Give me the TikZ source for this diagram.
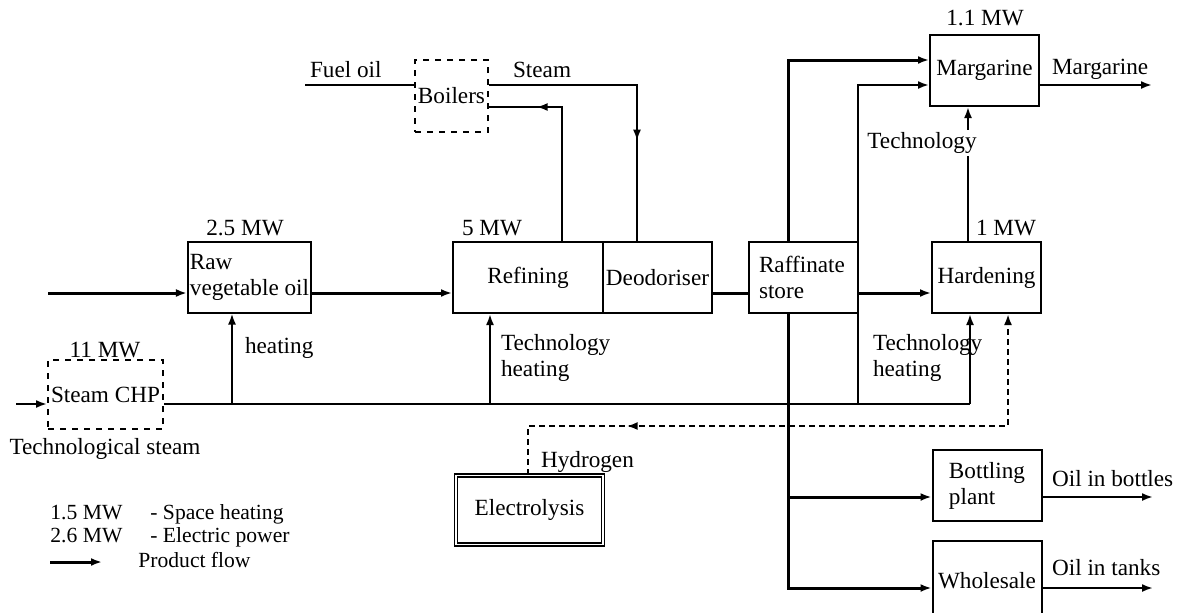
\documentclass[tikz,border=0pt]{standalone}
\usepackage{fontspec}
\setmainfont{Liberation Serif}
\usepackage{tikz}
\usetikzlibrary{arrows.meta, positioning, calc, decorations.markings}

\begin{document}
\begin{tikzpicture}[x=0.5pt, y=-0.5pt,
  every node/.style={font=\fontsize{11.6}{13}\selectfont},
  legend/.style={anchor=base west, font=\fontsize{10.8}{12}\selectfont, inner sep=0pt},
  unit/.style={draw, rectangle, line width=1pt, minimum width=54.5pt, minimum height=35.5pt, align=center, inner sep=1pt},
  plant/.style={unit, dashed},
  flow/.style={line width=1.5pt, -{Latex[length=5.5pt,width=4pt]}},
  heat/.style={line width=1pt, -{Latex[length=5.5pt,width=4pt]}},
  hydro/.style={line width=1.1pt, densely dashed, -{Latex[length=5.5pt,width=4pt]}},
  midarrow/.style={postaction={decorate}, decoration={markings, mark=at position #1 with {\arrow{Latex[length=5.5pt,width=4pt]}}}},
  midarrowrev/.style={postaction={decorate}, decoration={markings, mark=at position #1 with {\arrowreversed{Latex[length=5.5pt,width=4pt]}}}}]
\useasboundingbox (0,0) rectangle (1182,612);
\clip (0,0) rectangle (1182,612);

% Main line
\node[unit, minimum width=57.5pt, align=left] (raw) at (249.5,277) {Raw\\vegetable oil};
\node[unit, minimum width=75pt] (refining) at (528,277.5) {Refining};
\node[unit] (deodoriser) at (657.5,277.5) {Deodoriser};
\node[unit, text width=44pt, align=left] (raffinate) at (803,277.5) {Raffinate\\store};
\node[unit] (hardening) at (986.5,277.5) {Hardening};
\node[unit] (margarine) at (984.5,70.5) {Margarine};
\node[unit, align=left] (bottling) at (987,485.5) {Bottling\\plant};
\node[unit, minimum height=40pt] (wholesale) at (987,581) {Wholesale};

% Energy supply
\node[plant, minimum width=36.5pt, minimum height=36pt, inner sep=0pt] (boilers) at (451.5,96) {Boilers};
\node[plant, minimum width=57.5pt, minimum height=34.5pt] (chp) at (105.5,394.5) {Steam CHP};
\node[draw, rectangle, line width=0.7pt, double, double distance=0.9pt, minimum width=73.5pt, minimum height=34.5pt] (electrolysis) at (529.5,510) {Electrolysis};

% Power ratings
\node (mwraw) at (245,228) {2.5 MW};
\node (mwref) at (492,228) {5 MW};
\node (mwmarg) at (985,18) {1.1 MW};
\node (mwhard) at (1006,228) {1 MW};
\node (mwchp) at (105,350) {11 MW};
\node (techsteam) at (105,449) {Technological steam};

% Coordinates for free ends
\coordinate (rawin) at (48,293);
\coordinate (margtop) at (788,60);
\coordinate (margout) at (1152,85);
\coordinate (bottles) at (1153,497);
\coordinate (tanks) at (1153,588);
\coordinate (chpin) at (16,404);
\coordinate (chpend) at (970,404);
\coordinate (tapA) at (232,404);
\coordinate (tapB) at (490,404);
\coordinate (tapD) at (858,404);
\coordinate (fuel) at (305,85);
\coordinate (steamturn) at (637,85);
\coordinate (back) at (562,107);
\coordinate (techup) at (968,143);
\coordinate (hstart) at (528,426);
\coordinate (hturn) at (1008,426);

% Product flow
\draw[flow] (rawin) -- (rawin -| raw.west);
\draw[flow] (raw.east |- rawin) -- (refining.west |- rawin);
\draw[flow, -] (deodoriser.east |- rawin) -- (raffinate.west |- rawin);
\draw[flow] (raffinate.east |- rawin) -- (hardening.west |- rawin);
\draw[flow] (raffinate.north -| margtop) |- (margarine.west |- margtop);
\draw[flow] (raffinate.south -| margtop) |- (wholesale.west |- tanks);
\draw[flow] (margtop |- bottles) -- (bottling.west |- bottles);
\draw[heat] (margarine.east |- margout) -- (margout);
\node[anchor=base west] (margtxt) at (1045,74) {Margarine};
\draw[heat] (bottling.east |- bottles) -- (bottles);
\node[anchor=base west] (bottxt) at (1045,486) {Oil in bottles};
\draw[heat] (wholesale.east |- tanks) -- (tanks);
\node[anchor=base west] (tanktxt) at (1045,575) {Oil in tanks};

% Heat from Steam CHP
\draw[heat] (chpin) -- (chpin -| chp.west);
\draw[heat, -, line width=0.8pt] (chp.east |- chpin) -- (chpend);
\draw[heat] (tapA) -- (tapA |- raw.south);
\node[anchor=base west] (heatA) at (238,353) {heating};
\draw[heat] (tapB) -- (tapB |- refining.south);
\node[anchor=west, align=left] (heatB) at (494,358) {Technology\\heating};
\draw[heat] (chpend) -- (chpend |- hardening.south);
\node[anchor=west, align=left] (heatC) at (866,358) {Technology\\heating};
\draw[heat] (tapD) |- (margarine.west |- margout);
\draw[heat] (hardening.north -| techup) -- (margarine.south -| techup);
\node[fill=white, inner sep=1pt] (techlbl) at (922,143) {Technology};

% Boilers
\draw[heat, -, line width=0.8pt] (fuel) -- (fuel -| boilers.west);
\node[anchor=base west] (fueltxt) at (303,77) {Fuel oil};
\draw[heat, -, midarrow=0.67] (boilers.east |- fuel) -| (steamturn |- deodoriser.north);
\node[anchor=base west] (steamtxt) at (506,77) {Steam};
\draw[heat, -, midarrow=0.77] (refining.north -| back) |- (boilers.east |- back);

% Hydrogen
\draw[hydro, midarrowrev=0.23] (hstart |- electrolysis.north) -- (hstart) -- (hturn) -- (hturn |- hardening.south);
\node[anchor=base west] (hydtxt) at (534,467) {Hydrogen};

% Legend
\node[legend] (leg1) at (50,519) {1.5 MW};
\node[legend] (leg1b) at (150,519) {- Space heating};
\node[legend] (leg2) at (50,542) {2.6 MW};
\node[legend] (leg2b) at (150,542) {- Electric power};
\coordinate (legA) at (50,562);
\coordinate (legB) at (102,562);
\draw[flow] (legA) -- (legB);
\node[legend] (leg3) at (138,567) {Product flow};
\end{tikzpicture}
\end{document}
